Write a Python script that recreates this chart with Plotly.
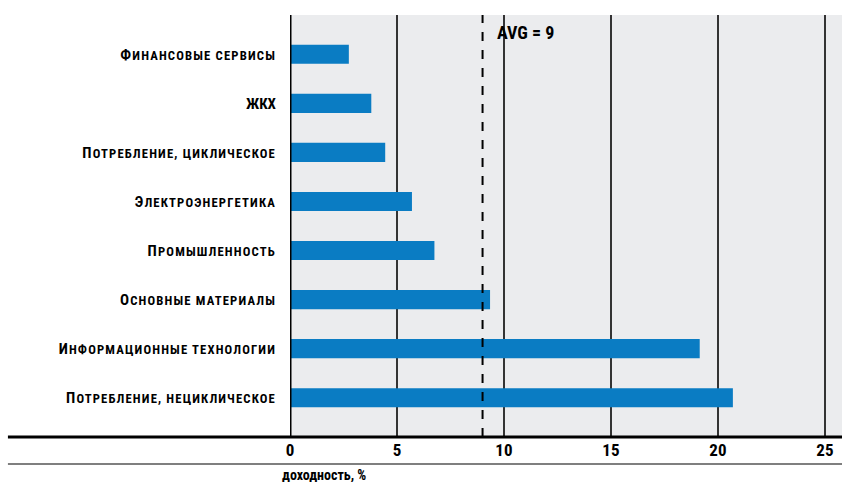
import plotly.graph_objects as go

categories = [
    "Финансовые сервисы",
    "ЖКХ",
    "Потребление, циклическое",
    "Электроэнергетика",
    "Промышленность",
    "Основные материалы",
    "Информационные технологии",
    "Потребление, нециклическое",
]
values = [2.75, 3.8, 4.45, 5.7, 6.75, 9.35, 19.15, 20.7]
avg_value = 9
x_ticks = [0, 5, 10, 15, 20, 25]
x_title = "доходность, %"

FONT = "Roboto Condensed, Roboto, sans-serif"


def small_caps(s):
    if s.isupper():
        return s
    return ("<span style='letter-spacing:1.15px'>" + s[0].upper()
            + "<span style='font-size:12.7px'>" + s[1:].upper() + "</span></span>")


ticktext = [small_caps(c) for c in categories]

fig = go.Figure()
fig.add_trace(go.Bar(
    x=values, y=categories, orientation="h",
    marker=dict(color="#0a7cc3", line=dict(width=0)),
    width=0.39,
))

fig.update_layout(
    width=842, height=482,
    margin=dict(l=290, r=0, t=15, b=45),
    paper_bgcolor="white",
    plot_bgcolor="#ebecee",
    showlegend=False,
    font=dict(family=FONT, color="black", weight="bold"),
    xaxis=dict(
        range=[0, 25.8], tickvals=x_ticks, ticktext=[str(t) for t in x_ticks],
        showgrid=True, gridcolor="#333333", gridwidth=1.5,
        zeroline=False, showline=False, ticks="", automargin=False,
        tickfont=dict(size=17, family=FONT, color="black", weight="bold"),
        ticklabelstandoff=1,
    ),
    yaxis=dict(
        categoryorder="array", categoryarray=categories,
        tickvals=categories, ticktext=ticktext,
        range=[7.8, -0.8], showgrid=False, zeroline=False,
        showline=False, ticks="", automargin=False,
        tickfont=dict(size=15, family=FONT, color="black", weight="bold"),
        ticklabelstandoff=13,
    ),
    shapes=[
        dict(type="line", xref="x", yref="paper", x0=0, x1=0, y0=0, y1=1,
             line=dict(color="black", width=3)),
        dict(type="line", xref="x", yref="paper", x0=avg_value, x1=avg_value, y0=0, y1=1,
             line=dict(color="black", width=2, dash="dash")),
        dict(type="line", xref="paper", yref="paper", x0=-0.511, x1=1, y0=0, y1=0,
             line=dict(color="black", width=3)),
        dict(type="line", xref="paper", yref="paper", x0=-0.511, x1=1, y0=-0.064, y1=-0.064,
             line=dict(color="#555555", width=1.5)),
    ],
    annotations=[
        dict(text="AVG = " + str(avg_value), xref="x", yref="paper", x=avg_value + 0.6, y=0.958,
             xanchor="left", yanchor="middle", showarrow=False,
             font=dict(size=18, family=FONT, color="black", weight="bold")),
        dict(text=x_title, xref="paper", yref="paper", x=0.0, y=-0.066,
             xanchor="left", yanchor="top", showarrow=False, xshift=-10,
             font=dict(size=14, family=FONT, color="black", weight="bold")),
    ],
)

fig.write_html("out.html", config={"displayModeBar": False},
               post_script="document.body.style.margin='0';")
